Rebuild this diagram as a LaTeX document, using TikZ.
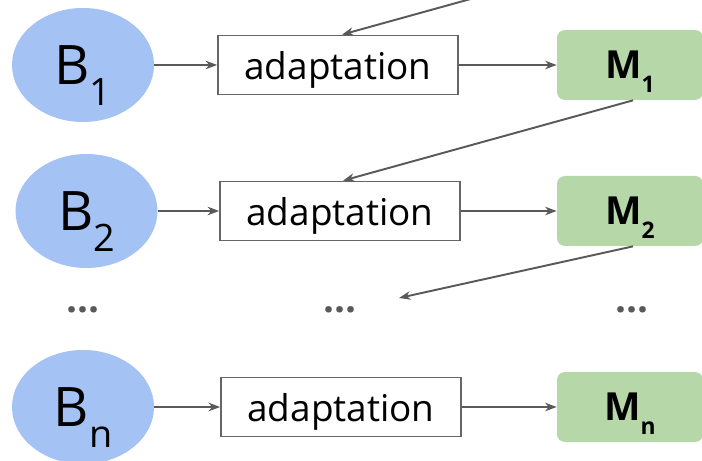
\documentclass[tikz,border=0pt]{standalone}
\usepackage{fontspec}
\setmainfont{Open Sans}
\usetikzlibrary{shapes.geometric,arrows.meta}

\definecolor{bazul}{HTML}{A4C2F4}
\definecolor{mverde}{HTML}{B6D7A8}
\definecolor{gris}{HTML}{595959}
\definecolor{borde}{HTML}{666666}

\newcommand{\bsub}[1]{\fontsize{31}{31}\selectfont B\raisebox{-12pt}[0pt][0pt]{\fontsize{21.5}{21.5}\selectfont #1}}
\newcommand{\msub}[1]{\bfseries\fontsize{22}{22}\selectfont M\raisebox{-8pt}[0pt][0pt]{\fontsize{13}{13}\selectfont #1}}

\tikzset{
    base/.style={ellipse, fill=bazul, minimum width=2.84cm, minimum height=2.28cm, inner sep=0pt},
    adapt/.style={draw=borde, line width=1pt, fill=white, minimum width=4.8cm, minimum height=1.18cm,
        inner sep=0pt, text height=20pt, text depth=4pt, font=\fontsize{21}{21}\selectfont},
    modelo/.style={fill=mverde, rounded corners=0.16cm, minimum width=2.92cm, minimum height=1.4cm, inner sep=0pt},
    puntos/.style={text=gris, font=\bfseries\fontsize{22}{22}\selectfont},
    flecha/.style={gris, line width=1.1pt, -{Stealth[length=6.5pt,width=4.8pt,inset=2pt]}}
}

\begin{document}
\begin{tikzpicture}

    \useasboundingbox (0,0) rectangle (14.04,-9.22);

    % fila 1
    \node[base] (b1) at (1.66,-1.30) {\bsub{1}};
    \node[adapt] (a1) at (6.76,-1.30) {adaptation};
    \node[modelo] (m1) at (12.60,-1.30) {\msub{1}};

    % fila 2
    \node[base] (b2) at (1.73,-4.22) {\bsub{2}};
    \node[adapt] (a2) at (6.80,-4.22) {adaptation};
    \node[modelo] (m2) at (12.60,-4.22) {\msub{2}};

    % puntos suspensivos
    \node[puntos] (d1) at (1.66,-6.20) {...};
    \node[puntos] (d2) at (6.80,-6.20) {...};
    \node[puntos] (d3) at (12.64,-6.20) {...};

    % fila n
    \node[base] (bn) at (1.66,-8.14) {\bsub{n}};
    \node[adapt] (an) at (6.82,-8.14) {adaptation};
    \node[modelo] (mn) at (12.60,-8.14) {\msub{n}};

    % modelo anterior (fuera del dibujo) y llegada a los puntos
    \coordinate (m0) at (12.66,0.92);
    \coordinate (dfin) at (7.98,-5.96);

    % flechas horizontales
    \draw[flecha] (b1) -- (a1);
    \draw[flecha] (a1) -- (m1);
    \draw[flecha] (b2) -- (a2);
    \draw[flecha] (a2) -- (m2);
    \draw[flecha] (bn) -- (an);
    \draw[flecha] (an) -- (mn);

    % flechas diagonales
    \draw[flecha] (m0) -- ([xshift=0.08cm]a1.north);
    \draw[flecha] ([xshift=0.06cm]m1.south) -- ([xshift=0.06cm]a2.north);
    \draw[flecha] ([xshift=0.06cm]m2.south) -- (dfin);

\end{tikzpicture}
\end{document}
